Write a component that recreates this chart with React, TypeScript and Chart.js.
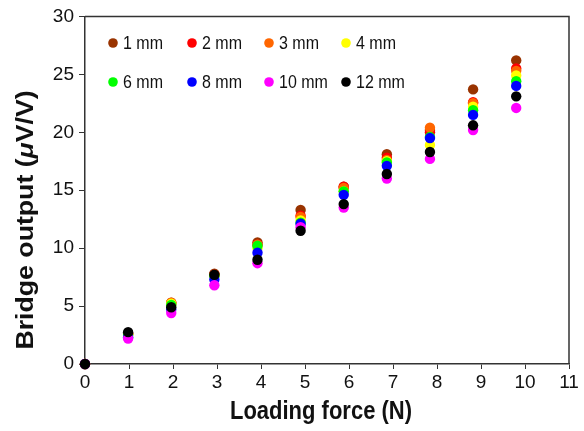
import React, { useEffect, useRef } from "react";
import { Chart, registerables } from "chart.js";

Chart.register(...registerables);

const FORCE = [0, 0.98, 1.96, 2.94, 3.92, 4.9, 5.88, 6.86, 7.84, 8.82, 9.8];
const NAMES = ["1 mm", "2 mm", "3 mm", "4 mm", "6 mm", "8 mm", "10 mm", "12 mm"];
const COLORS = ["#993300", "#ff0000", "#ff6600", "#ffff00", "#00ff00", "#0000ff", "#ff00ff", "#000000"];
const S_1MM = [0, 2.6, 5.3, 7.8, 10.5, 13.3, 15.3, 18.1, 20.2, 23.7, 26.2];
const S_2MM = [0, 2.6, 5.2, 7.7, 10.3, 12.8, 15.3, 17.8, 20.0, 22.6, 25.5];
const S_3MM = [0, 2.6, 5.3, 7.7, 10.3, 12.7, 15.2, 17.6, 20.4, 22.5, 25.3];
const S_4MM = [0, 2.5, 5.2, 7.6, 10.0, 12.4, 14.9, 17.5, 18.9, 22.2, 24.9];
const S_6MM = [0, 2.5, 5.1, 7.6, 10.2, 12.2, 14.9, 17.4, 19.6, 21.9, 24.4];
const S_8MM = [0, 2.3, 4.7, 7.3, 9.6, 12.1, 14.6, 17.1, 19.5, 21.5, 24.0];
const S_10MM = [0, 2.2, 4.4, 6.8, 8.7, 11.8, 13.5, 16.0, 17.7, 20.2, 22.1];
const S_12MM = [0, 2.75, 4.9, 7.7, 9.0, 11.5, 13.8, 16.4, 18.3, 20.6, 23.1];
const SERIES = [S_1MM, S_2MM, S_3MM, S_4MM, S_6MM, S_8MM, S_10MM, S_12MM];

const X_TITLE = "Loading force (N)";
const Y_TITLE_PARTS = [
  { t: "Bridge output (", italic: false },
  { t: "\u03BC", italic: true },
  { t: "V/V)", italic: false },
];

const FONT = "'Liberation Sans', Arial, sans-serif";
const STRETCH = 1.16;

const framePlugin = {
  id: "frame",
  beforeDatasetsDraw(chart: any) {
    const { ctx, chartArea: a } = chart;
    ctx.save();
    ctx.strokeStyle = "#333";
    ctx.lineWidth = 1.5;
    ctx.beginPath();
    ctx.moveTo(a.left, a.top);
    ctx.lineTo(a.right, a.top);
    ctx.lineTo(a.right, a.bottom);
    ctx.stroke();
    ctx.restore();
  },
  afterDraw(chart: any) {
    const { ctx } = chart;
    // legend
    const colX = [113, 192, 269, 346];
    const rowY = [43, 82];
    ctx.save();
    NAMES.forEach((name, i) => {
      const cx = colX[i % 4];
      const cy = rowY[Math.floor(i / 4)];
      ctx.fillStyle = COLORS[i];
      ctx.beginPath();
      ctx.arc(cx, cy, 4.8, 0, Math.PI * 2);
      ctx.fill();
      ctx.save();
      ctx.translate(cx + 10, cy);
      ctx.scale(1, STRETCH);
      ctx.fillStyle = "#111";
      ctx.font = `16px ${FONT}`;
      ctx.textAlign = "left";
      ctx.textBaseline = "middle";
      ctx.fillText(name, 0, 1);
      ctx.restore();
    });
    // x title
    ctx.save();
    ctx.translate(321, 412);
    ctx.scale(1, STRETCH);
    ctx.fillStyle = "#111";
    ctx.font = `bold 22px ${FONT}`;
    ctx.textAlign = "center";
    ctx.textBaseline = "middle";
    ctx.fillText(X_TITLE, 0, 0);
    ctx.restore();
    // y title
    ctx.save();
    ctx.translate(27, 220);
    ctx.scale(1, STRETCH);
    ctx.rotate(-Math.PI / 2);
    ctx.fillStyle = "#111";
    ctx.textBaseline = "middle";
    ctx.textAlign = "left";
    const fonts = Y_TITLE_PARTS.map((p) => (p.italic ? `italic bold 23px ${FONT}` : `bold 23px ${FONT}`));
    let total = 0;
    const widths = Y_TITLE_PARTS.map((p, i) => {
      ctx.font = fonts[i];
      const w = ctx.measureText(p.t).width;
      total += w;
      return w;
    });
    let x = -total / 2;
    Y_TITLE_PARTS.forEach((p, i) => {
      ctx.font = fonts[i];
      ctx.fillText(p.t, x, 0);
      x += widths[i];
    });
    ctx.restore();
    ctx.restore();
  },
};

export default function App() {
  const ref = useRef<HTMLCanvasElement | null>(null);
  useEffect(() => {
    if (!ref.current) return;
    const datasets = SERIES.map((s, i) => ({
      label: NAMES[i],
      data: FORCE.map((f, j) => ({ x: f, y: s[j] })),
      backgroundColor: COLORS[i],
      borderColor: COLORS[i],
      borderWidth: 0,
      pointRadius: 5.2,
      pointHoverRadius: 5.2,
      showLine: false,
      clip: false as any,
      order: SERIES.length - 1 - i,
    }));
    const chart = new Chart(ref.current, {
      type: "scatter",
      data: { datasets },
      options: {
        animation: false,
        responsive: false,
        devicePixelRatio: 1,
        layout: { padding: { top: 14, right: 15, left: 0, bottom: 0 } },
        plugins: { legend: { display: false }, tooltip: { enabled: false } },
        scales: {
          x: {
            type: "linear",
            min: 0,
            max: 11,
            afterFit: (s: any) => {
              s.height = 67;
            },
            ticks: {
              stepSize: 1,
              color: "#111",
              font: { family: FONT, size: 19 },
              padding: 2,
              maxRotation: 0,
              autoSkip: false,
            },
            grid: { display: true, drawOnChartArea: false, drawTicks: true, tickLength: 5, color: "#333", lineWidth: 1 },
            border: { display: true, color: "#333", width: 1.5 },
          },
          y: {
            type: "linear",
            min: 0,
            max: 30,
            afterFit: (s: any) => {
              s.width = 85;
            },
            ticks: {
              stepSize: 5,
              color: "#111",
              font: { family: FONT, size: 19 },
              padding: 5,
            },
            grid: { display: true, drawOnChartArea: false, drawTicks: true, tickLength: 6, color: "#333", lineWidth: 1 },
            border: { display: true, color: "#333", width: 1.5 },
          },
        },
      },
      plugins: [framePlugin],
    });
    return () => chart.destroy();
  }, []);
  return (
    <div style={{ position: "fixed", left: 0, top: 0, width: 584, height: 431, background: "#fff" }}>
      <canvas ref={ref} width={584} height={431} style={{ width: 584, height: 431, display: "block" }} />
    </div>
  );
}
